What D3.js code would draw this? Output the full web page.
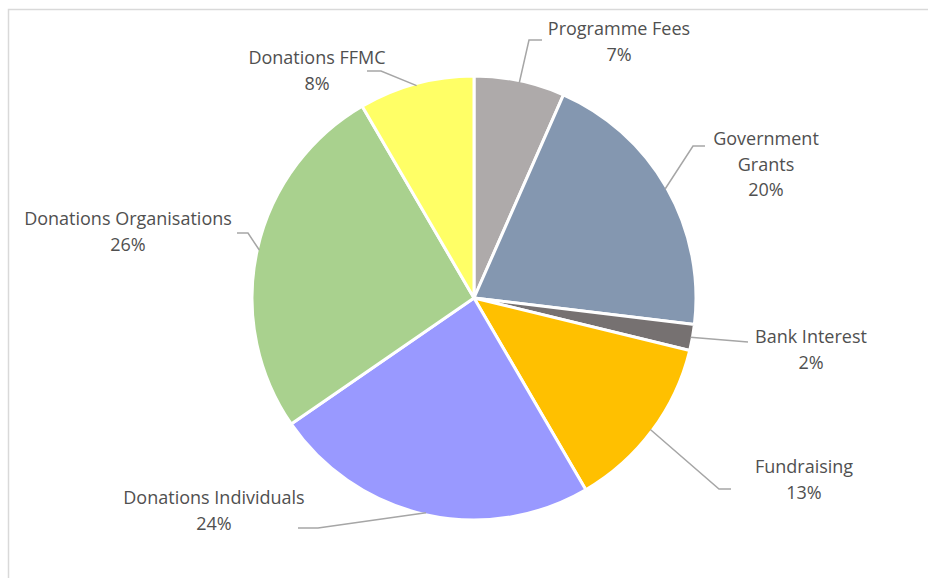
<!DOCTYPE html>
<html>
<head>
<meta charset="utf-8">
<script src="https://cdn.jsdelivr.net/npm/d3@7"></script>
<style>
  body { margin: 0; background: #fff; }
  svg { display: block; }
</style>
</head>
<body>
<script>
// data (share of income, %), clockwise from 12 o'clock
const categories = ['Programme Fees', 'Government Grants', 'Bank Interest', 'Fundraising',
  'Donations Individuals', 'Donations Organisations', 'Donations FFMC']
const values = [6.6, 20.3, 1.9, 12.8, 23.8, 26.2, 8.4]
const labelLines = [['Programme Fees'], ['Government', 'Grants'], ['Bank Interest'], ['Fundraising'],
  ['Donations Individuals'], ['Donations Organisations'], ['Donations FFMC']]
const colors = ['#AEAAAA', '#8497B0', '#767171', '#FFC000', '#9999FF', '#A9D18E', '#FFFF66']

const width = 928
const height = 578
const cx = 474
const cy = 298
const radius = 222

// label placement: text centre x, first line baseline y, elbow point of the leader
const labelPos = [
  { x: 619, y: 35, elbow: [529, 40], end: [542, 40] },
  { x: 766, y: 145, elbow: [693, 146], end: [705, 146] },
  { x: 811, y: 343, elbow: [748, 342], end: [748, 342] },
  { x: 804, y: 473, elbow: [719, 489], end: [731, 489] },
  { x: 214, y: 504, elbow: [318, 528], end: [298, 528] },
  { x: 128, y: 225, elbow: [248, 233], end: [237, 233] },
  { x: 317, y: 64, elbow: [381, 71], end: [367, 71] }
]

const svg = d3.select('body')
  .append('svg')
  .attr('width', width)
  .attr('height', height)

// chart frame
svg.append('rect')
  .attr('x', 8.5)
  .attr('y', 9.5)
  .attr('width', width + 10)
  .attr('height', height + 10)
  .style('fill', 'none')
  .style('stroke', '#d9d9d9')
  .style('stroke-width', '1.5px')

const total = d3.sum(values)
const pie = d3.pie().sort(null).value(d => d)
const arcs = pie(values)
const arc = d3.arc().innerRadius(0).outerRadius(radius)

const g = svg.append('g').attr('transform', `translate(${cx},${cy})`)

g.selectAll('path.slice')
  .data(arcs)
  .enter()
  .append('path')
  .attr('class', 'slice')
  .attr('d', arc)
  .style('fill', (d, i) => colors[i])
  .style('stroke', '#fff')
  .style('stroke-width', '3px')
  .style('stroke-linejoin', 'round')

// leader lines from the slice edge to the label
svg.selectAll('polyline.leader')
  .data(arcs)
  .enter()
  .append('polyline')
  .attr('class', 'leader')
  .attr('points', (d, i) => {
    const a = (d.startAngle + d.endAngle) / 2
    const r = radius - 2
    const start = [cx + r * Math.sin(a), cy - r * Math.cos(a)]
    const p = labelPos[i]
    return [start, p.elbow, p.end].map(q => q.join(',')).join(' ')
  })
  .style('fill', 'none')
  .style('stroke', '#a6a6a6')
  .style('stroke-width', '1.5px')

const labels = svg.selectAll('text.label')
  .data(arcs)
  .enter()
  .append('text')
  .attr('class', 'label')
  .attr('text-anchor', 'middle')
  .style('font-family', '"Open Sans", sans-serif')
  .style('font-size', '18px')
  .style('fill', '#505050')

labels.each(function(d, i) {
  const t = d3.select(this)
  const p = labelPos[i]
  const lines = labelLines[i].concat([Math.round(d.data / total * 100) + '%'])
  lines.forEach((line, j) => {
    t.append('tspan')
      .attr('x', p.x)
      .attr('y', p.y + j * 25.7)
      .text(line)
  })
})
</script>
</body>
</html>
